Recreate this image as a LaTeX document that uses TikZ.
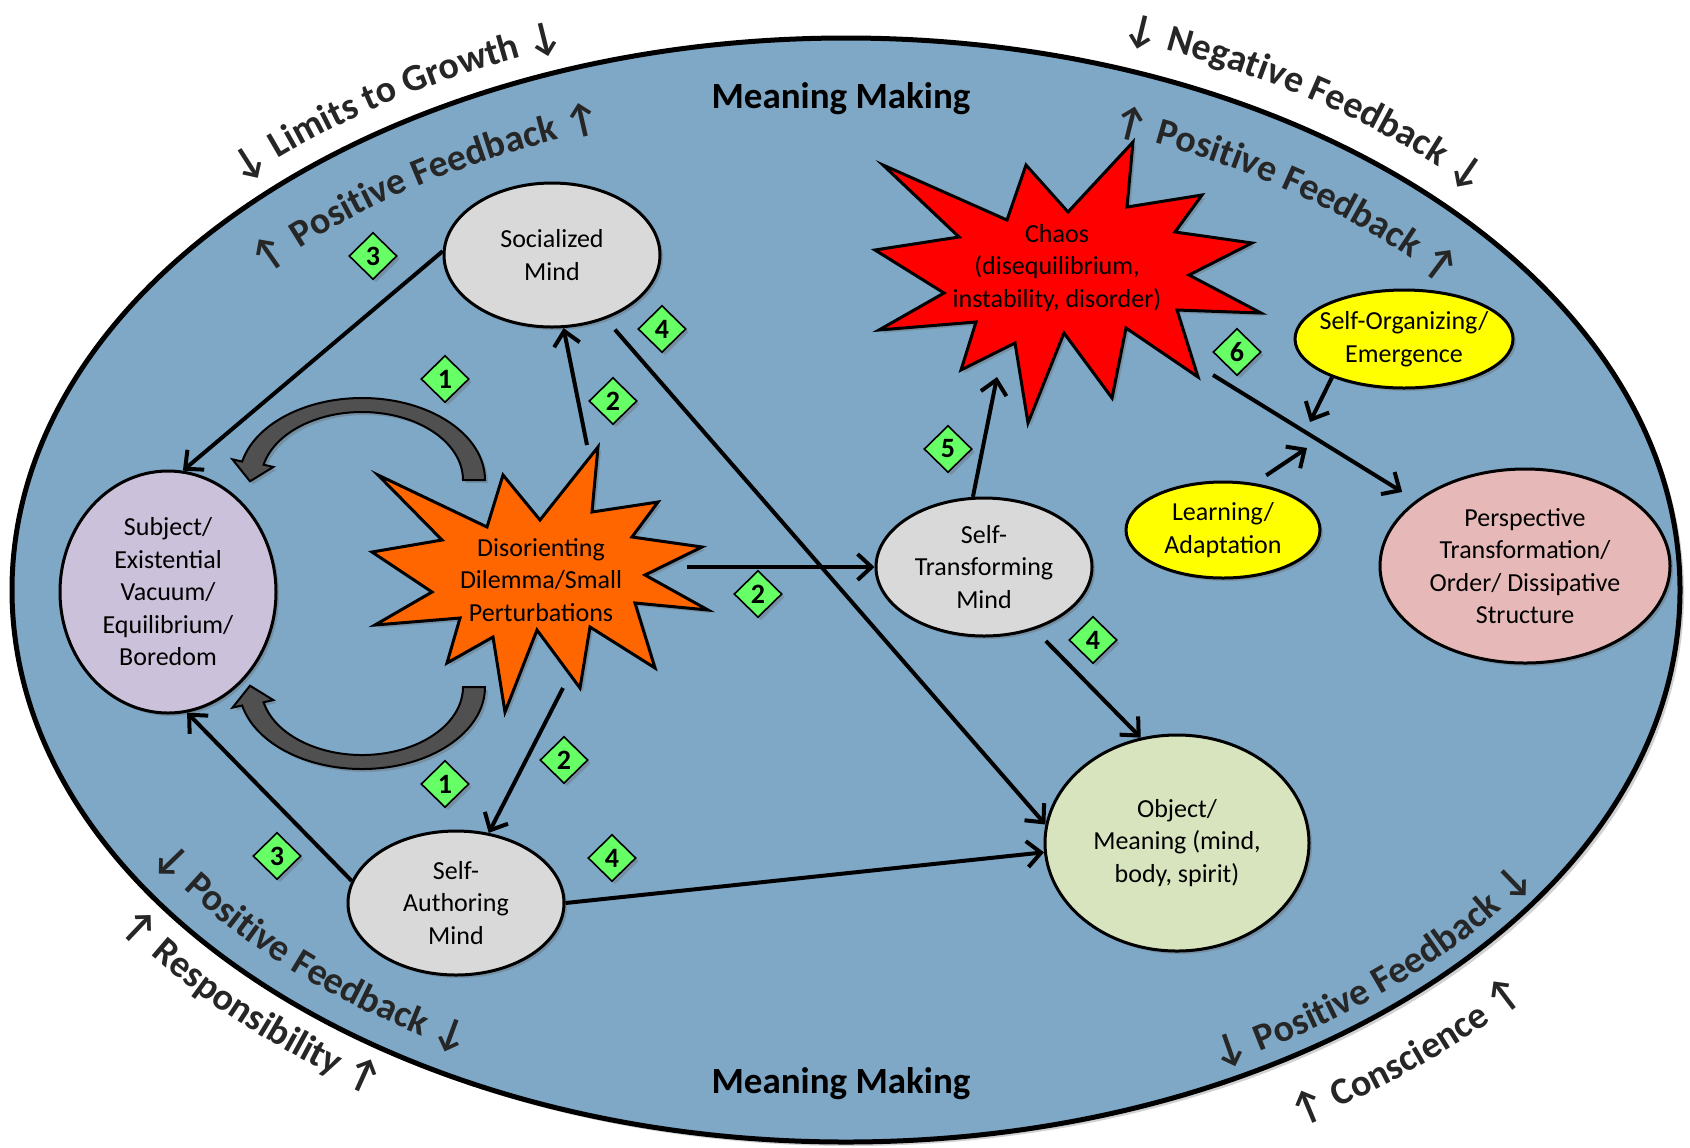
\documentclass[tikz,border=0pt]{standalone}
\usepackage{fontspec}
\setmainfont{Carlito}
\newfontfamily\arrowfont{Carlito}
\usetikzlibrary{shapes.geometric,arrows.meta,calc,decorations.text,shadows}
\definecolor{bgblue}{RGB}{126,168,198}
\definecolor{nodegray}{RGB}{217,217,217}
\definecolor{lilac}{RGB}{204,193,218}
\definecolor{dorange}{RGB}{255,102,0}
\definecolor{chaosred}{RGB}{255,0,0}
\definecolor{objgreen}{RGB}{215,228,189}
\definecolor{perspink}{RGB}{230,185,184}
\definecolor{ylw}{RGB}{255,255,0}
\definecolor{badgegreen}{RGB}{102,255,102}
\definecolor{curvegray}{RGB}{80,80,80}
\definecolor{lblgray}{RGB}{38,38,38}
\newcommand\ndfont{\fontsize{13}{16.25}\selectfont}
\newcommand\arwfont{\arrowfont\bfseries\fontsize{20}{20}\selectfont\color{lblgray}}
\newcommand\lblfont{\fontsize{19}{19}\selectfont\bfseries\color{lblgray}}
\begin{document}
\begin{tikzpicture}[x=0.5pt,y=-0.5pt,
  shad/.style={drop shadow={shadow xshift=1.5pt,shadow yshift=-1.5pt,opacity=0.35,fill=black!60}},
  oval/.style={ellipse, draw=black, line width=1.5pt, inner sep=-8pt, align=center, font=\ndfont, shad},
  badge/.style={diamond, draw=black, line width=0.8pt, fill=badgegreen, minimum width=24pt, minimum height=23.5pt, inner sep=0pt, font=\bfseries\fontsize{14}{14}\selectfont, shad},
  link/.style={line width=2pt, -{Straight Barb[length=7pt,width=13pt]}},
  burst/.style={draw=black, line width=1.5pt, line join=miter, shad},
  garrow/.style={draw=black, line width=1pt, fill=curvegray, shad},
  plain/.style={font=\ndfont, align=center, inner sep=0pt}
]
\useasboundingbox (0,0) rectangle (1690,1147);

% outer ellipse
\draw[line width=2.5pt, fill=bgblue, drop shadow={shadow xshift=2pt,shadow yshift=-2pt,opacity=0.3,fill=black!60}] (846,590) ellipse [x radius=834, y radius=552];

% curved labels
\path[decorate, decoration={text along path, text align=left, text={|\arwfont|↓ |\lblfont|Limits to Growth |\arwfont|↓}}]
  ($(846,590)+(-135:858 and 576)$) arc[start angle=-135, end angle=-60, x radius=858, y radius=576];
\path[decorate, decoration={text along path, text align=left, text={|\arwfont|↑ |\lblfont|Positive Feedback |\arwfont|↑}}]
  ($(846,590)+(-139.5:768 and 486)$) arc[start angle=-139.5, end angle=-60, x radius=768, y radius=486];
\path[decorate, decoration={text along path, text align=left, text={|\arwfont|↓ |\lblfont|Negative Feedback |\arwfont|↓}}]
  ($(846,590)+(-71.4:864 and 582)$) arc[start angle=-71.4, end angle=0, x radius=864, y radius=582];
\path[decorate, decoration={text along path, text align=left, text={|\arwfont|↑ |\lblfont|Positive Feedback |\arwfont|↑}}]
  ($(846,590)+(-69.9:770 and 488)$) arc[start angle=-69.9, end angle=0, x radius=770, y radius=488];
\path[decorate, decoration={text along path, text align=left, text={|\arwfont|↓ |\lblfont|Positive Feedback |\arwfont|↓}}]
  ($(846,590)+(-210.5:806 and 524)$) arc[start angle=-210.5, end angle=-290, x radius=806, y radius=524];
\path[decorate, decoration={text along path, text align=left, text={|\arwfont|↑ |\lblfont|Responsibility |\arwfont|↑}}]
  ($(846,590)+(-214:879 and 597)$) arc[start angle=-214, end angle=-290, x radius=879, y radius=597];
\path[decorate, decoration={text along path, text align=left, text={|\arwfont|↓ |\lblfont|Positive Feedback |\arwfont|↓}}]
  ($(846,590)+(-297:817 and 535)$) arc[start angle=-297, end angle=-360, x radius=817, y radius=535];
\path[decorate, decoration={text along path, text align=left, text={|\arwfont|↑ |\lblfont|Conscience |\arwfont|↑}}]
  ($(846,590)+(-300:900 and 618)$) arc[start angle=-300, end angle=-360, x radius=900, y radius=618];

\node[font=\bfseries\fontsize{18.5}{18.5}\selectfont, anchor=base, inner sep=0pt] (mmtop) at (841,108) {Meaning Making};
\node[font=\bfseries\fontsize{18.5}{18.5}\selectfont, anchor=base, inner sep=0pt] (mmbot) at (841,1093) {Meaning Making};

% gray curved arrows
\draw[garrow] (485,480) arc[start angle=0, end angle=-167, x radius=123, y radius=82]
  -- ($(362,480)+(-167:133 and 92)$) -- ($(362,480)+(-181:112 and 75)$)
  -- ($(362,480)+(-167:91 and 58)$) -- ($(362,480)+(-167:101 and 68)$)
  arc[start angle=-167, end angle=0, x radius=101, y radius=68] -- cycle;
\draw[garrow] (485,687) arc[start angle=0, end angle=167, x radius=123, y radius=82]
  -- ($(362,687)+(167:133 and 92)$) -- ($(362,687)+(181:112 and 75)$)
  -- ($(362,687)+(167:91 and 58)$) -- ($(362,687)+(167:101 and 68)$)
  arc[start angle=167, end angle=0, x radius=101, y radius=68] -- cycle;

% bursts
\path[burst, fill=dorange] (378,475)--(487,527)--(503,475)--(540,520)--(598,447)--(592,512)--(658,502)--(632,537)--(702,547)--(645,575)--(708,610)--(635,603)--(655,668)--(590,627)--(580,688)--(537,630)--(505,712)--(493,637)--(447,663)--(460,618)--(375,625)--(432,592)--(372,552)--(442,540)--cycle;
\node[plain] (dis) at (541,580) {Disorienting\\Dilemma/Small\\Perturbations};
\path[burst, fill=chaosred] (883,165)--(1007,220)--(1026,165)--(1068,212)--(1133,142)--(1127,207)--(1202,195)--(1175,232)--(1252,243)--(1189,275)--(1261,313)--(1177,310)--(1198,377)--(1126,328)--(1112,398)--(1064,333)--(1028,423)--(1015,343)--(961,370)--(976,322)--(879,330)--(944,293)--(875,250)--(959,237)--cycle;
\node[plain] (chaos) at (1057,268) {Chaos\\(disequilibrium,\\instability, disorder)};

% ovals
\node[oval, fill=nodegray, minimum width=108pt, minimum height=72pt] (soc) at (552,255) {Socialized\\Mind};
\node[oval, fill=lilac, minimum width=108pt, minimum height=121pt] (subj) at (168,592) {Subject/\\Existential\\Vacuum/\\Equilibrium/\\Boredom};
\node[oval, fill=nodegray, minimum width=108pt, minimum height=72pt] (sam) at (456,903) {Self-\\Authoring\\Mind};
\node[oval, fill=nodegray, minimum width=108pt, minimum height=69pt] (stm) at (984,567) {Self-\\Transforming\\Mind};
\node[oval, fill=objgreen, minimum width=132pt, minimum height=108pt] (obj) at (1177,843) {Object/\\Meaning (mind,\\body, spirit)};
\node[oval, fill=perspink, minimum width=145pt, minimum height=97pt] (persp) at (1525,566) {Perspective\\Transformation/\\Order/ Dissipative\\Structure};
\node[oval, fill=ylw, minimum width=109pt, minimum height=49pt] (selforg) at (1404,339) {Self-Organizing/\\Emergence};
\node[oval, fill=ylw, minimum width=97pt, minimum height=48pt] (learn) at (1223,530) {Learning/\\Adaptation};

% connector end points on bursts / mid-arrow
\coordinate (disN) at (587,445);
\coordinate (disE) at (687,567);
\coordinate (disS) at (563,688);
\coordinate (chS) at (997,377);
\coordinate (chSE) at (1213,375);
\coordinate (m1) at (1310,422);
\coordinate (m2) at (1307,448);

% connectors
\draw[link] (soc.178) -- (subj.83);
\draw[link] (disN) -- (soc.-81);
\draw[link, shorten <=7pt] (soc.-50) -- (obj.172);
\draw[link] (disE) -- (stm.180);
\draw[link] (disS) -- (sam.65);
\draw[link] (sam.168) -- (subj.-81);
\draw[link] (sam.0) -- (obj.184);
\draw[link] (stm.99) -- (chS);
\draw[link, shorten <=8pt] (stm.-51) -- (obj.109);
\draw[link, shorten >=8pt] (chSE) -- (persp.149);
\draw[link] (selforg.-152) -- (m1);
\draw[link, shorten <=7pt] (learn.56) -- (m2);

% badges
\node[badge] (b3a) at (373,256) {3};
\node[badge] (b1a) at (445,379) {1};
\node[badge] (b2a) at (613,401) {2};
\node[badge] (b4a) at (662,329) {4};
\node[badge] (b2b) at (758,594) {2};
\node[badge] (b1b) at (445,784) {1};
\node[badge] (b2c) at (564,760) {2};
\node[badge] (b3b) at (277,856) {3};
\node[badge] (b4b) at (612,858) {4};
\node[badge] (b5) at (948,449) {5};
\node[badge] (b4c) at (1093,640) {4};
\node[badge] (b6) at (1237,352) {6};
\end{tikzpicture}
\end{document}
